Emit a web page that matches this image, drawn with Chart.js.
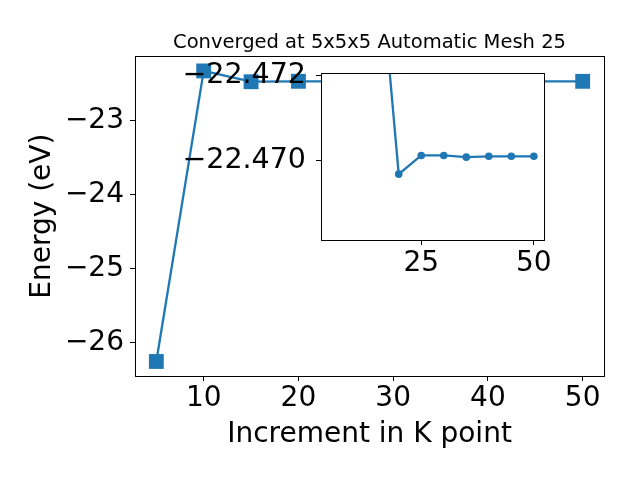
<!DOCTYPE html>
<html>
<head>
<meta charset="utf-8">
<script src="https://cdn.jsdelivr.net/npm/chart.js@4/dist/chart.umd.min.js"></script>
<style>
  body { margin: 0; background: #fff; }
  #wrap { position: relative; width: 640px; height: 480px; }
  #wrap canvas { position: absolute; left: 0; top: 0; }
</style>
</head>
<body>
<div id="wrap">
  <canvas id="mainChart" width="640" height="480"></canvas>
  <canvas id="insetChart" width="640" height="480"></canvas>
</div>
<script>
// k-point increment vs total energy
const kPoints = [5, 10, 15, 20, 25, 30, 35, 40, 45, 50];
const energy = [-26.25, -22.33, -22.47564, -22.46967, -22.47011, -22.47011, -22.47007, -22.47009, -22.47009, -22.47009];

const mainXTicks = [10, 20, 30, 40, 50];
const mainYTicks = [-26, -25, -24, -23];
const insetXTicks = [25, 50];
const insetYTicks = [-22.472, -22.470];

const blue = '#1f77b4';
Chart.defaults.font.family = 'DejaVu Sans';
Chart.defaults.color = '#000';

function minus(s) { return String(s).replace('-', '\u2212'); }

function padRange(vals) {
    const lo = Math.min(...vals), hi = Math.max(...vals);
    const pad = (hi - lo) * 0.05;
    return [lo - pad, hi + pad];
}

const frame = {
    id: 'frame',
    beforeDraw(chart, args, opts) {
        if (!opts.fill) return;
        const a = chart.chartArea, ctx = chart.ctx;
        ctx.save();
        ctx.fillStyle = '#fff';
        ctx.fillRect(a.left, a.top, a.right - a.left, a.bottom - a.top);
        ctx.restore();
    },
    afterDatasetsDraw(chart) {
        const a = chart.chartArea, ctx = chart.ctx;
        ctx.save();
        ctx.strokeStyle = '#000';
        ctx.lineWidth = 1;
        ctx.strokeRect(Math.round(a.left) + 0.5, Math.round(a.top) + 0.5,
            Math.round(a.right - a.left), Math.round(a.bottom - a.top));
        ctx.restore();
    }
};

const xRange = padRange(kPoints);
const yRange = padRange(energy);

const tickGrid = { drawOnChartArea: false, drawTicks: true, tickLength: 5, color: '#000' };

new Chart(document.getElementById('mainChart'), {
    type: 'scatter',
    data: {
        datasets: [{
            data: kPoints.map((k, i) => ({ x: k, y: energy[i] })),
            showLine: true,
            borderColor: blue,
            borderWidth: 2.3,
            pointStyle: 'rect',
            pointRadius: 10.5,
            pointBackgroundColor: blue,
            pointBorderWidth: 0,
            clip: false
        }]
    },
    options: {
        responsive: false,
        animation: false,
        events: [],
        layout: { padding: { top: 0, right: 36, bottom: 0, left: 0 } },
        plugins: {
            legend: { display: false },
            tooltip: { enabled: false },
            title: {
                display: true,
                fullSize: false,
                text: 'Converged at 5x5x5 Automatic Mesh 25',
                font: { size: 19.5, weight: 'normal' },
                padding: { top: 31, bottom: 2 }
            },
            frame: {}
        },
        scales: {
            x: {
                type: 'linear',
                min: xRange[0], max: xRange[1],
                afterBuildTicks: s => { s.ticks = mainXTicks.map(v => ({ value: v })); },
                afterFit: s => { s.height = 104; },
                grid: tickGrid,
                border: { display: false },
                ticks: { font: { size: 28 }, padding: 1, maxRotation: 0, autoSkip: false },
                title: { display: true, text: 'Increment in K point', font: { size: 28 }, padding: { top: 0, bottom: 28 } }
            },
            y: {
                min: yRange[0], max: yRange[1],
                afterBuildTicks: s => { s.ticks = mainYTicks.map(v => ({ value: v })); },
                afterFit: s => { s.width = 135; },
                grid: tickGrid,
                border: { display: false },
                ticks: { font: { size: 28 }, padding: 6, callback: v => minus(v) },
                title: { display: true, text: 'Energy (eV)', font: { size: 28 }, padding: { top: 26, bottom: 0 } }
            }
        }
    },
    plugins: [frame]
});

// inset: converged region, y axis inverted
const insetK = kPoints.slice(2);
const insetE = energy.slice(2);

new Chart(document.getElementById('insetChart'), {
    type: 'scatter',
    data: {
        datasets: [{
            data: insetK.map((k, i) => ({ x: k, y: insetE[i] })),
            showLine: true,
            borderColor: blue,
            borderWidth: 2.3,
            pointStyle: 'circle',
            pointRadius: 3.8,
            pointBackgroundColor: blue,
            pointBorderWidth: 0,
            clip: 0
        }]
    },
    options: {
        responsive: false,
        animation: false,
        events: [],
        layout: { padding: { top: 73, right: 96, bottom: 0, left: 0 } },
        plugins: {
            legend: { display: false },
            tooltip: { enabled: false },
            frame: { fill: true }
        },
        scales: {
            x: {
                type: 'linear',
                min: xRange[0], max: xRange[1],
                afterBuildTicks: s => { s.ticks = insetXTicks.map(v => ({ value: v })); },
                afterFit: s => { s.height = 240; },
                grid: tickGrid,
                border: { display: false },
                ticks: { font: { size: 28 }, padding: 2, maxRotation: 0, autoSkip: false }
            },
            y: {
                reverse: true,
                min: -22.47205, max: -22.46812,
                afterBuildTicks: s => { s.ticks = insetYTicks.map(v => ({ value: v })); },
                afterFit: s => { s.width = 321; },
                grid: tickGrid,
                border: { display: false },
                ticks: { font: { size: 28.5 }, padding: 10, callback: v => minus(v.toFixed(3)) }
            }
        }
    },
    plugins: [frame]
});
</script>
</body>
</html>
